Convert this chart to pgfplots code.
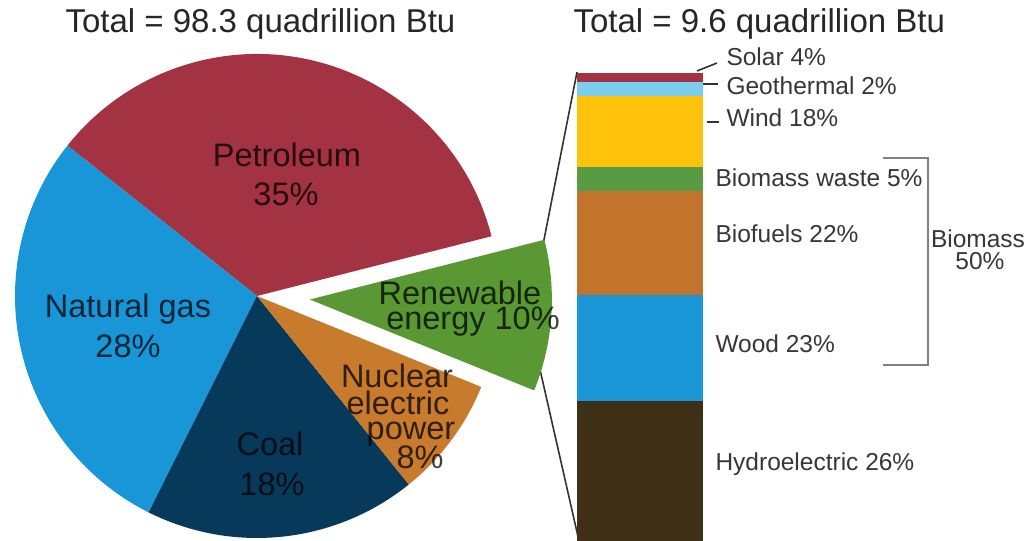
\documentclass[border=0pt]{standalone}
\usepackage{pgfplots}
\pgfplotsset{compat=1.18}
\usepackage{fontspec}
\setmainfont{Liberation Sans}

% slice colours
\definecolor{cPet}{RGB}{163,50,66}
\definecolor{cGas}{RGB}{24,150,215}
\definecolor{cCoal}{RGB}{6,57,90}
\definecolor{cNuc}{RGB}{200,122,45}
\definecolor{cRen}{RGB}{90,152,52}
% bar colours
\definecolor{cHydro}{RGB}{62,48,22}
\definecolor{cWood}{RGB}{26,150,215}
\definecolor{cBiof}{RGB}{194,116,44}
\definecolor{cWaste}{RGB}{88,155,66}
\definecolor{cWind}{RGB}{255,195,12}
\definecolor{cGeo}{RGB}{122,206,240}
\definecolor{cSolar}{RGB}{163,50,66}
\definecolor{cLbl}{RGB}{55,55,55}

% pie: centre (257,245), radius 242; #1 = share before the slice, #2 = share
% (shares of a 99 % total, 360/99 degrees per percent)
\newcommand\slice[4]{%
  \fill[#3, shift={#4}] (axis cs:257,245) -- +({14.3+(360/99)*#1}:242bp)
    arc[start angle={14.3+(360/99)*#1}, delta angle={(360/99)*#2}, radius=242bp] -- cycle;}

\begin{document}
\begin{tikzpicture}
\begin{axis}[
    at={(0,0)}, anchor=south west,
    width=1028bp, height=541bp, scale only axis,
    xmin=0, xmax=1028, ymin=0, ymax=541,
    hide axis, clip=false,
    every node/.style={inner sep=0pt},
  ]
  % connectors to the bar (behind the slice)
  \draw[line width=1.6bp, black!80] (axis cs:577,469) -- (axis cs:540,281);
  \draw[line width=1.6bp, black!80] (axis cs:531,211) -- (axis cs:579,0);

  \slice{0}{35}{cPet}{(0,0)}
  \slice{35}{28}{cGas}{(0,0)}
  \slice{63}{18}{cCoal}{(0,0)}
  \slice{81}{8}{cNuc}{(0,0)}
  \slice{89}{10}{cRen}{(-3.8:53bp)}

  \begin{scope}[font=\fontsize{32.5bp}{34bp}\selectfont, text=black, text opacity=0.75]
    \node[anchor=base] at (axis cs:287,374) {Petroleum};
    \node[anchor=base] at (axis cs:286,335) {35\%};
    \node[anchor=base] at (axis cs:128,223) {Natural gas};
    \node[anchor=base] at (axis cs:128,183) {28\%};
    \node[anchor=base] at (axis cs:270,86) {Coal};
    \node[anchor=base] at (axis cs:272,46) {18\%};
    \node[anchor=base] at (axis cs:397,153) {Nuclear};
    \node[anchor=base] at (axis cs:398,126) {electric};
    \node[anchor=base] at (axis cs:411,101) {power};
    \node[anchor=base] at (axis cs:420,73) {8\%};
    \node[anchor=base] at (axis cs:460,236) {Renewable};
    \node[anchor=base] at (axis cs:473,211) {energy 10\%};
  \end{scope}

  \begin{scope}[font=\fontsize{33bp}{35bp}\selectfont, text=black!85]
    \node[anchor=base west] at (axis cs:62,508) {Total = 98.3 quadrillion Btu};
    \node[anchor=base west] at (axis cs:570,508) {Total = 9.6 quadrillion Btu};
  \end{scope}

  % leaders and bracket
  \draw[line width=1.6bp, black!80] (axis cs:697,470) -- (axis cs:717,478);
  \draw[line width=1.6bp, black!80] (axis cs:703,457) -- (axis cs:718,457);
  \draw[line width=1.6bp, black!80] (axis cs:707,419) -- (axis cs:719,419);
  \draw[line width=1.6bp, black!50] (axis cs:883,383) -- (axis cs:928,383)
    -- (axis cs:928,176) -- (axis cs:883,176);

  \begin{scope}[font=\fontsize{24.5bp}{26bp}\selectfont, text=cLbl]
    \node[anchor=base west] at (axis cs:723,475) {Solar 4\%};
    \node[anchor=base west] at (axis cs:723,446) {Geothermal 2\%};
    \node[anchor=base west] at (axis cs:723,414) {Wind 18\%};
    \node[anchor=base west] at (axis cs:712,354) {Biomass waste 5\%};
    \node[anchor=base west] at (axis cs:712,298) {Biofuels 22\%};
    \node[anchor=base west] at (axis cs:712,188) {Wood 23\%};
    \node[anchor=base west] at (axis cs:712,71) {Hydroelectric 26\%};
    \node[anchor=base] at (axis cs:978,293) {Biomass};
    \node[anchor=base] at (axis cs:980,271) {50\%};
  \end{scope}
\end{axis}

% stacked bar, heights as drawn (share of the bar)
\begin{axis}[
    at={(577bp,0)}, anchor=south west,
    width=126bp, height=468bp, scale only axis,
    xmin=-0.5, xmax=0.5, ymin=0, ymax=100,
    hide axis, clip=false,
    ybar stacked, bar width=1,
  ]
  \addplot[fill=cHydro, draw=none] coordinates {(0,29.9)};
  \addplot[fill=cWood,  draw=none] coordinates {(0,22.7)};
  \addplot[fill=cBiof,  draw=none] coordinates {(0,22.2)};
  \addplot[fill=cWaste, draw=none] coordinates {(0,5.1)};
  \addplot[fill=cWind,  draw=none] coordinates {(0,15.2)};
  \addplot[fill=cGeo,   draw=none] coordinates {(0,3.0)};
  \addplot[fill=cSolar, draw=none] coordinates {(0,1.9)};
\end{axis}

\pgfresetboundingbox
\path (0,0) rectangle (1028bp,541bp);
\end{tikzpicture}
\end{document}
